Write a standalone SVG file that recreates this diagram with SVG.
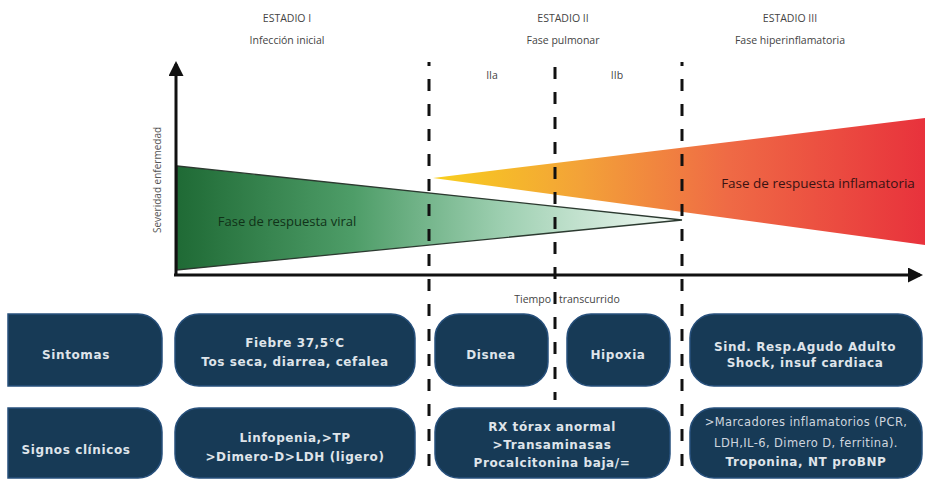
<svg xmlns="http://www.w3.org/2000/svg" width="925" height="479" viewBox="0 0 925 479">
<defs>
<linearGradient id="gGreen" x1="177" y1="0" x2="682" y2="0" gradientUnits="userSpaceOnUse">
<stop offset="0" stop-color="#1f6a35"/>
<stop offset="0.35" stop-color="#4e9d68"/>
<stop offset="0.65" stop-color="#9fd0b2"/>
<stop offset="1" stop-color="#f4faf6"/>
</linearGradient>
<linearGradient id="gRed" x1="433" y1="0" x2="925" y2="0" gradientUnits="userSpaceOnUse">
<stop offset="0" stop-color="#f8cf1e"/>
<stop offset="0.3" stop-color="#f3a238"/>
<stop offset="0.6" stop-color="#ef6a45"/>
<stop offset="1" stop-color="#e8323c"/>
</linearGradient>
<marker id="arr" viewBox="0 0 10 10" refX="8" refY="5" markerWidth="5" markerHeight="5" orient="auto" markerUnits="strokeWidth">
<path d="M0,0 L10,5 L0,10 z" fill="#111"/>
</marker>
</defs>
<style>
.hdr{font-family:"Open Sans","Liberation Sans",sans-serif;font-size:10.5px;fill:#444;text-anchor:middle}
.box{fill:#173a56;stroke:#27507c;stroke-width:1.5}
.bt{font-family:"DejaVu Sans","Liberation Sans",sans-serif;font-size:12px;font-weight:bold;fill:#dfe4ea;text-anchor:middle;letter-spacing:0.6px}
.bn{font-family:"DejaVu Sans","Liberation Sans",sans-serif;font-size:11.5px;fill:#cfd6df;text-anchor:middle;letter-spacing:0.4px}
.dash{stroke:#111;stroke-width:3;stroke-dasharray:12 13;fill:none}
.axis{stroke:#111;stroke-width:3;fill:none}
</style>
<rect width="925" height="479" fill="#ffffff"/>
<g id="headers">
<text class="hdr" x="287" y="22">ESTADIO I</text>
<text class="hdr" x="287" y="44">Infección inicial</text>
<text class="hdr" x="563" y="22">ESTADIO II</text>
<text class="hdr" x="563" y="44">Fase pulmonar</text>
<text class="hdr" x="790" y="22">ESTADIO III</text>
<text class="hdr" x="790" y="44">Fase hiperinflamatoria</text>
<text class="hdr" x="492" y="79">IIa</text>
<text class="hdr" x="617" y="79">IIb</text>
</g>
<g id="viral-phase">
<polygon points="177,166 682,220 177,270" fill="url(#gGreen)" stroke="#2c3a30" stroke-width="1.3"/>
<text x="287" y="226" font-family="Open Sans, Liberation Sans, sans-serif" font-size="13" fill="#103218" text-anchor="middle">Fase de respuesta viral</text>
</g>
<g id="inflam-phase">
<polygon points="433,178 925,118 925,245" fill="url(#gRed)"/>
<text x="818" y="188" font-family="Open Sans, Liberation Sans, sans-serif" font-size="13.5" fill="#3a1212" text-anchor="middle">Fase de respuesta inflamatoria</text>
</g>
<g id="connectors">
<line class="axis" x1="176" y1="275" x2="176" y2="64" marker-end="url(#arr)"/>
<line class="axis" x1="174" y1="275" x2="920" y2="275" marker-end="url(#arr)"/>
<line class="dash" x1="429" y1="62" x2="429" y2="476" stroke-dashoffset="8"/>
<line class="dash" x1="555" y1="62" x2="555" y2="400" stroke-dashoffset="20"/>
<line class="dash" x1="682" y1="62" x2="682" y2="476" stroke-dashoffset="8"/>
</g>
<g id="axis-labels">
<text x="0" y="0" transform="translate(161,180) rotate(-90)" font-family="Open Sans, Liberation Sans, sans-serif" font-size="10" fill="#555" text-anchor="middle">Severidad enfermedad</text>
<text x="551" y="303" font-family="Open Sans, Liberation Sans, sans-serif" font-size="10.5" fill="#444" text-anchor="end">Tiempo</text>
<text x="559" y="303" font-family="Open Sans, Liberation Sans, sans-serif" font-size="10.5" fill="#444">transcurrido</text>
</g>
<g id="sintomas-label">
<path class="box" d="M8,314 H138 A24,24 0 0 1 162,338 V362 A24,24 0 0 1 138,386 H8 Z"/>
<text class="bt" x="76" y="359">Sintomas</text>
</g>
<g id="sintomas-e1">
<rect class="box" x="175" y="314" width="240" height="72" rx="24"/>
<text class="bt" x="295" y="347">Fiebre 37,5°C</text>
<text class="bt" x="295" y="366">Tos seca, diarrea, cefalea</text>
</g>
<g id="sintomas-e2a">
<rect class="box" x="435" y="314" width="113" height="72" rx="24"/>
<text class="bt" x="491" y="359">Disnea</text>
</g>
<g id="sintomas-e2b">
<rect class="box" x="567" y="314" width="103" height="72" rx="24"/>
<text class="bt" x="618" y="359">Hipoxia</text>
</g>
<g id="sintomas-e3">
<rect class="box" x="690" y="314" width="232" height="72" rx="24"/>
<text class="bt" x="805" y="351">Sind. Resp.Agudo Adulto</text>
<text class="bt" x="805" y="367">Shock, insuf cardiaca</text>
</g>
<g id="signos-label">
<path class="box" d="M8,408 H138 A24,24 0 0 1 162,432 V454 A24,24 0 0 1 138,478 H8 Z"/>
<text class="bt" x="76" y="454">Signos clínicos</text>
</g>
<g id="signos-e1">
<rect class="box" x="175" y="408" width="240" height="70" rx="24"/>
<text class="bt" x="295" y="442">Linfopenia,&gt;TP</text>
<text class="bt" x="295" y="461">&gt;Dimero-D&gt;LDH (ligero)</text>
</g>
<g id="signos-e2">
<rect class="box" x="435" y="408" width="235" height="70" rx="24"/>
<text class="bt" x="552" y="431">RX tórax anormal</text>
<text class="bt" x="552" y="449">&gt;Transaminasas</text>
<text class="bt" x="552" y="467">Procalcitonina baja/=</text>
</g>
<g id="signos-e3">
<rect class="box" x="690" y="408" width="232" height="70" rx="24"/>
<text class="bn" x="806" y="426">&gt;Marcadores inflamatorios (PCR,</text>
<text class="bn" x="806" y="447">LDH,IL-6, Dimero D, ferritina).</text>
<text class="bt" x="806" y="466">Troponina, NT proBNP</text>
</g>
</svg>
